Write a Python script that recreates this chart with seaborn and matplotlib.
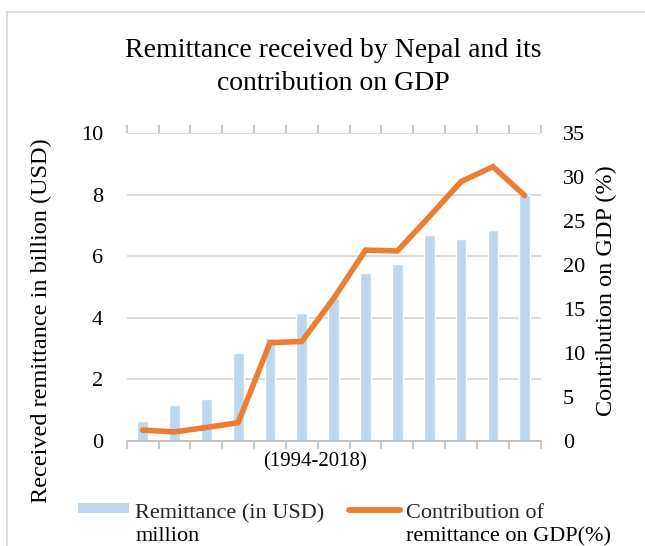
import numpy as np
import pandas as pd
import matplotlib
matplotlib.use("Agg")
import matplotlib.pyplot as plt
import seaborn as sns
from matplotlib.patches import Patch
from matplotlib.lines import Line2D

# Remittance inflow to Nepal, every second year 1994-2018
years = [1994, 1996, 1998, 2000, 2002, 2004, 2006, 2008, 2010, 2012, 2014, 2016, 2018]
remittance_bn = [0.64, 1.16, 1.37, 2.85, 3.35, 4.15, 4.64, 5.46, 5.75, 6.68, 6.56, 6.84, 8.00]
gdp_share_pct = [1.2, 1.0, 1.5, 2.05, 11.15, 11.3, 16.2, 21.7, 21.6, 25.5, 29.5, 31.2, 27.9]

left_ticks = [0, 2, 4, 6, 8, 10]
right_ticks = [0, 5, 10, 15, 20, 25, 30, 35]

# legend entries: first line next to the key, second line underneath
legend_first = ["Remittance (in USD)", "Contribution of"]
legend_second = ["million", "remittance on GDP(%)"]

df = pd.DataFrame({"year": [str(y) for y in years],
                   "remittance": remittance_bn,
                   "share": gdp_share_pct})

BAR = "#BDD7EE"
LINE = "#ED7D31"
GRID = "#D9D9D9"
AXIS = "#BFBFBF"

sns.set_theme(style="white")
plt.rcParams["font.family"] = ["Liberation Serif", "DejaVu Serif"]

fig = plt.figure(figsize=(6.45, 5.46), dpi=100)
ax = fig.add_axes([0.1964, 0.1929, 0.6419, 0.563])

sns.barplot(data=df, x="year", y="remittance", color=BAR, saturation=1,
            width=0.34, ax=ax, zorder=2)
ax.set_xlim(-0.5, len(years) - 0.5)
ax.set_ylim(0, 10)
ax.set_yticks(left_ticks)
ax.yaxis.grid(True, color=GRID, lw=1.3)
ax.xaxis.grid(False)
ax.set_axisbelow(True)
for s in ["left", "right", "top"]:
    ax.spines[s].set_visible(False)
ax.spines["bottom"].set_color(AXIS)
ax.spines["bottom"].set_linewidth(1.3)

# category boundary tick marks above and below the plot
ax.set_xticks(np.arange(-0.5, len(years), 1), minor=True)
ax.tick_params(axis="x", which="major", length=0, labelbottom=False)
ax.tick_params(axis="x", which="minor", length=6, width=1.2, color=AXIS,
               direction="out", bottom=True, top=True)
ax.tick_params(axis="y", length=0, pad=17, labelsize=16, labelcolor="black")

ax.set_xlabel("(1994-2018)", fontsize=15, color="black", va="top")
ax.xaxis.set_label_coords(0.455, -0.038)
ax.set_ylabel("Received remittance in billion (USD)", fontsize=17.5, color="black")
ax.yaxis.set_label_coords(-0.18, 0.39)

ax2 = ax.twinx()
sns.lineplot(x=df.index, y=df["share"], color=LINE, lw=4.0, ax=ax2,
             solid_joinstyle="miter", solid_capstyle="round")
ax2.set_ylim(0, 35)
ax2.set_yticks(right_ticks)
ax2.grid(False)
for s in ax2.spines.values():
    s.set_visible(False)
ax2.tick_params(axis="y", length=0, pad=16, labelsize=16, labelcolor="black")
ax2.set_ylabel("Contribution on GDP (%)", fontsize=17.5, color="black")
ax2.yaxis.set_label_coords(1.134, 0.487)

# title centred over the plot area; va="baseline" anchors the second line
fig.text(333.7 / 645, 1 - 90 / 546, "Remittance received by Nepal and its\ncontribution on GDP",
         ha="center", va="baseline", fontsize=20, linespacing=1.43, color="black")

handles = [Patch(facecolor=BAR, edgecolor="none"),
           Line2D([0], [0], color=LINE, lw=4.2)]
leg = fig.legend(handles, legend_first, loc="upper left",
                 bbox_to_anchor=(78 / 645, 1 - 504 / 546),
                 ncol=2, frameon=False, fontsize=16, handlelength=2.3, handleheight=0.33,
                 handletextpad=0.27, columnspacing=1.1, borderpad=0, borderaxespad=0)

# lift the legend keys level with the upper half of the first text line
lift = 1.5  # points
for h in leg.legend_handles:
    if isinstance(h, Line2D):
        h.set_ydata(np.asarray(h.get_ydata()) + lift)
    else:
        h.set_y(h.get_y() + lift)

fig.canvas.draw()
renderer = fig.canvas.get_renderer()
W, H = fig.bbox.width, fig.bbox.height
for txt, extra in zip(leg.get_texts(), legend_second):
    bb = txt.get_window_extent(renderer)
    fig.text(bb.x0 / W, (bb.y0 - 4) / H, extra, ha="left", va="top",
             fontsize=16, color="black")

# chart area border (left and top edges)
fig.add_artist(Line2D([7 / 645, 7 / 645], [0, 1 - 12 / 546], color=GRID, lw=1.3,
                      transform=fig.transFigure))
fig.add_artist(Line2D([7 / 645, 1], [1 - 12 / 546, 1 - 12 / 546], color=GRID, lw=1.3,
                      transform=fig.transFigure))

fig.savefig("out.png", dpi=100)
